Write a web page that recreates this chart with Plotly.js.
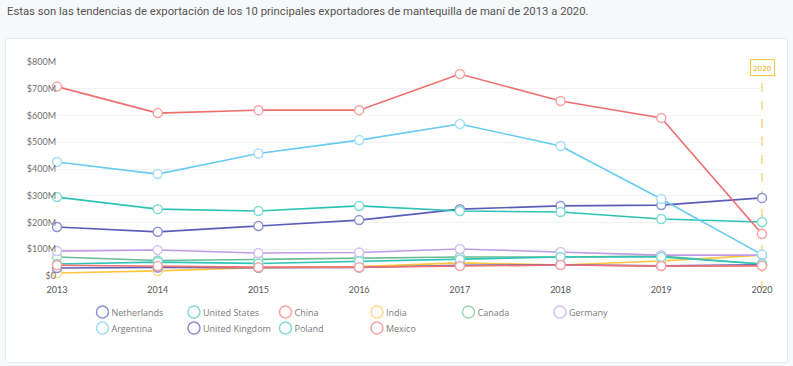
<!DOCTYPE html>
<html>
<head>
<meta charset="utf-8">
<script src="https://cdn.plot.ly/plotly-3.0.1.min.js"></script>
<style>
  html, body { margin:0; padding:0; width:793px; height:366px; background:#f7f8fa; overflow:hidden; }
  #title { position:absolute; left:7px; top:5px; font-family:Roboto, "Open Sans", sans-serif; font-size:11.3px; color:#555; }
  #card { position:absolute; left:5px; top:38px; width:781px; height:323px; background:#fff; border:1px solid #e6e9ee; border-radius:3px; }
  #chart { position:absolute; left:0; top:0; width:793px; height:366px; }
  #chart .infolayer .traces text { transform: translateX(-11px); }
</style>
</head>
<body>
<div id="title">Estas son las tendencias de exportación de los 10 principales exportadores de mantequilla de maní de 2013 a 2020.</div>
<div id="card"></div>
<div id="chart"></div>
<script>
const years = [2013, 2014, 2015, 2016, 2017, 2018, 2019, 2020];
const countries = ["Netherlands", "United States", "China", "India", "Canada", "Germany", "Argentina", "United Kingdom", "Poland", "Mexico"];
// values in millions of USD
const netherlands   = [183, 165, 187, 209, 250, 262, 265, 292];
const unitedStates  = [295, 250, 243, 262, 243, 239, 213, 202];
const china         = [708, 609, 620, 620, 755, 654, 591, 157];
const india         = [11, 19, 31, 35, 49, 41, 56, 78];
const canada        = [71, 58, 62, 67, 71, 71, 75, 45];
const germany       = [93, 97, 86, 88, 101, 90, 78, 78];
const argentina     = [426, 381, 458, 508, 568, 486, 288, 80];
const unitedKingdom = [30, 32, 31, 32, 40, 42, 38, 42];
const poland        = [45, 52, 47, 55, 62, 71, 71, 45];
const mexico        = [40, 37, 33, 33, 37, 41, 37, 38];
const seriesValues = [netherlands, unitedStates, china, india, canada, germany, argentina, unitedKingdom, poland, mexico];
const lineColors   = ["#5b5eb9", "#2cc3b6", "#ef6e6e", "#ffc53d", "#67bd91", "#c09ce6", "#66cbf1", "#5e5eb6", "#2ec4b8", "#ef7272"];
const markerLines  = ["#8e90d4", "#7fdcd4", "#f5a3a3", "#ffd98a", "#9fd6b8", "#d6bff1", "#a3def6", "#8f8fd0", "#7fdcd4", "#f5a3a3"];
const yTickVals  = [0, 100, 200, 300, 400, 500, 600, 700, 800];
const yTickText  = ["$0", "$100M", "$200M", "$300M", "$400M", "$500M", "$600M", "$700M", "$800M"];
const highlightYear = 2020;
const xRange = [years[0], years[years.length - 1]];
const highlightFrac = (highlightYear - xRange[0]) / (xRange[1] - xRange[0]);

const traces = [];
countries.forEach((name, i) => {
  traces.push({
    x: years, y: seriesValues[i], name: name, type: 'scatter', mode: 'lines+markers',
    line: {color: lineColors[i], width: 1.6},
    marker: {symbol: 'circle', size: 9, color: '#ffffff', line: {color: markerLines[i], width: 1.5}},
    cliponaxis: false, showlegend: false, hoverinfo: 'x+y+name'
  });
});
countries.forEach((name, i) => {
  traces.push({
    x: [null], y: [null], name: name, type: 'scatter', mode: 'markers',
    legend: i < 6 ? 'legend' : 'legend2',
    marker: {symbol: 'circle', size: 12, color: '#ffffff', line: {color: markerLines[i], width: 1.5}},
    showlegend: true, hoverinfo: 'skip'
  });
});

const legendBase = {orientation: 'h', xref: 'container', yref: 'container', x: 0.104, xanchor: 'left', yanchor: 'middle',
           entrywidth: 46.5, entrywidthmode: 'pixels', itemwidth: 30, tracegroupgap: 0,
           font: {family: '"Open Sans", sans-serif', size: 9, color: '#7a7a7a'}, bgcolor: 'rgba(0,0,0,0)'};

const layout = {
  width: 793, height: 366,
  margin: {l: 57, r: 31, t: 62, b: 90},
  paper_bgcolor: 'rgba(0,0,0,0)', plot_bgcolor: 'rgba(0,0,0,0)',
  font: {family: 'Lato, "Open Sans", sans-serif', size: 9, color: '#666'},
  xaxis: {range: xRange, tickvals: years, ticktext: years.map(String), showgrid: false, zeroline: false,
          showline: false, ticks: '', ticklabelstandoff: 7, tickfont: {size: 9, color: '#555'}, fixedrange: true},
  yaxis: {range: [0, 800], tickvals: yTickVals, ticktext: yTickText, showgrid: true, gridcolor: '#f1f2f4', gridwidth: 1,
          zeroline: false, ticks: '', tickfont: {size: 9, color: '#707070'}, fixedrange: true},
  showlegend: true,
  legend: Object.assign({}, legendBase, {y: 1 - 312 / 366}),
  legend2: Object.assign({}, legendBase, {y: 1 - 328 / 366}),
  shapes: [{type: 'line', xref: 'paper', yref: 'paper', x0: highlightFrac, x1: highlightFrac, y0: -0.065, y1: 0.939,
            layer: 'below', line: {color: '#f7bd38', width: 1, dash: 'dash'}}],
  annotations: [{xref: 'x', yref: 'paper', x: highlightYear, y: 0.972, text: String(highlightYear), showarrow: false,
                 font: {family: '"Open Sans", sans-serif', size: 8, color: '#f0a800'}, bordercolor: '#ffc53d', borderwidth: 1,
                 borderpad: 2, bgcolor: '#ffffff', yanchor: 'middle'}]
};

Plotly.newPlot('chart', traces, layout, {displayModeBar: false});
</script>
</body>
</html>
